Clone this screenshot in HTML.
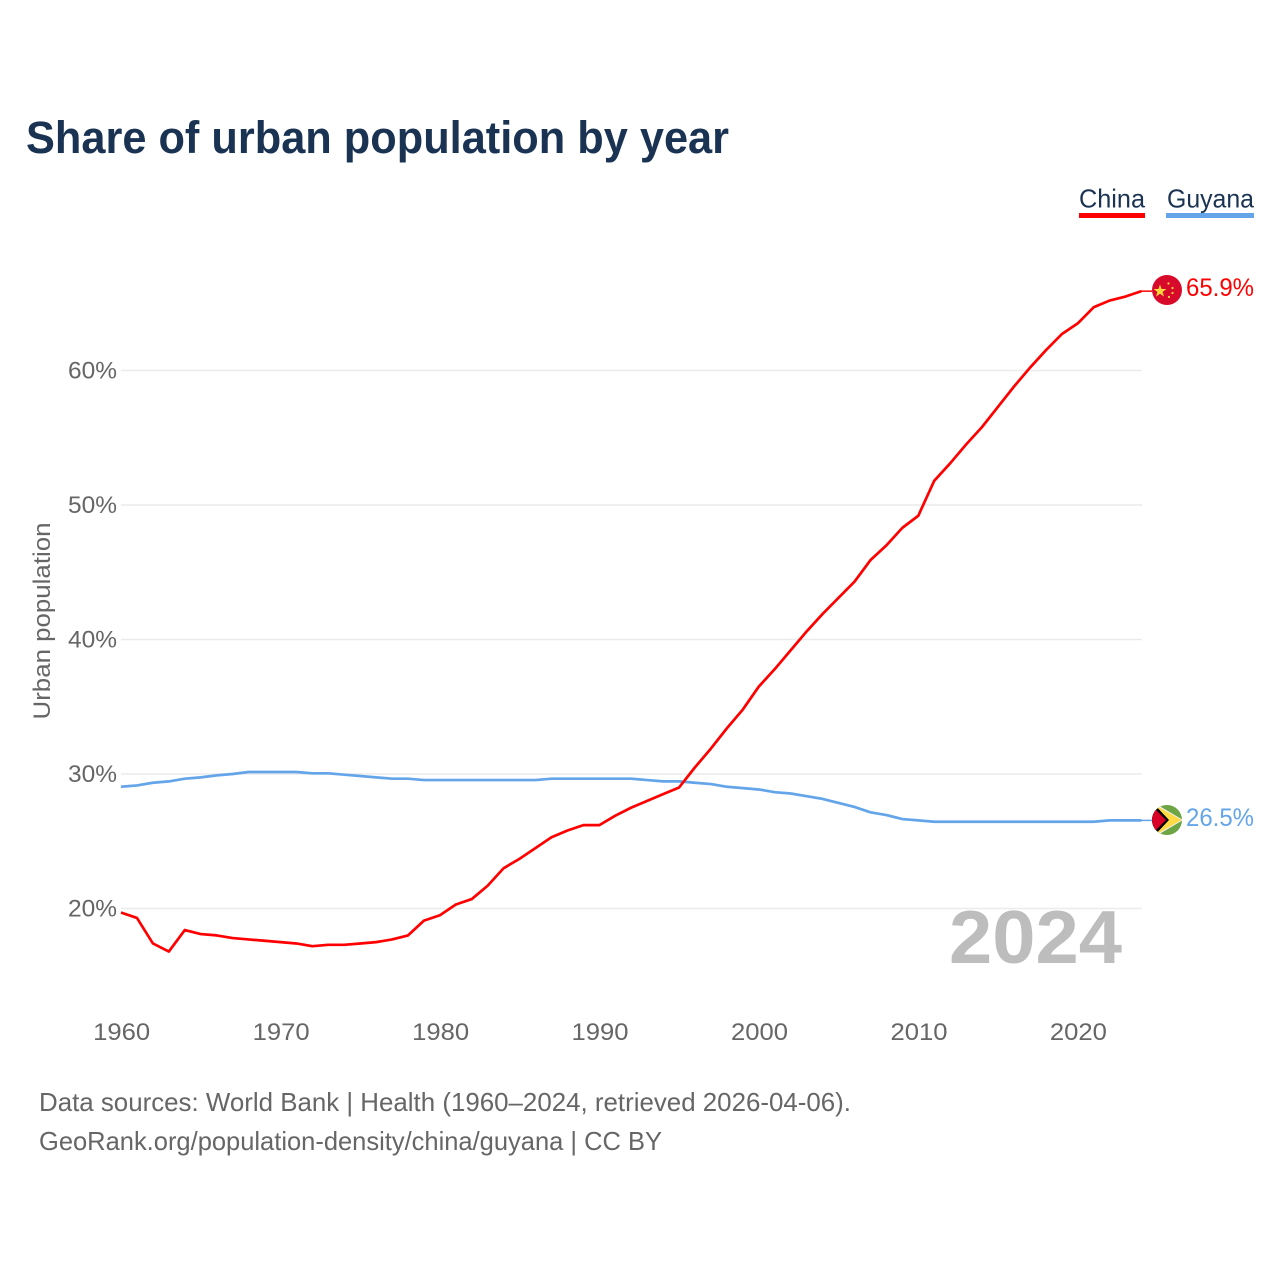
<!DOCTYPE html>
<html lang="en">
<head>
<meta charset="utf-8">
<title>Share of urban population by year</title>
<style>
html,body{margin:0;padding:0;background:#fff;width:1280px;height:1280px;overflow:hidden}
svg{display:block}
text{font-family:"Liberation Sans",sans-serif}
</style>
</head>
<body>
<svg id="chart" xmlns="http://www.w3.org/2000/svg" width="1280" height="1280" viewBox="0 0 1280 1280">
  <rect x="0" y="0" width="1280" height="1280" fill="#fff"/>
  <text x="26" y="153" font-size="45" font-weight="700" fill="#1a3353" textLength="703" lengthAdjust="spacingAndGlyphs">Share of urban population by year</text>

  <g>
    <text x="1079" y="207.5" font-size="26" fill="#1a3353" textLength="66" lengthAdjust="spacingAndGlyphs">China</text>
    <rect x="1079" y="213" width="66" height="5" fill="#ff0000"/>
  </g>
  <g>
    <text x="1167" y="207.5" font-size="26" fill="#1a3353" textLength="87" lengthAdjust="spacingAndGlyphs">Guyana</text>
    <rect x="1166" y="213" width="88" height="5" fill="#64a5ea"/>
  </g>

  <g id="grid"></g>
  <g id="yTicks"></g>
  <g id="xTicks"></g>
  <text transform="translate(50 621) rotate(-90)" text-anchor="middle" font-size="24.5" fill="#666" textLength="197" lengthAdjust="spacingAndGlyphs">Urban population</text>

  <text x="1122" y="963" text-anchor="end" font-size="75" font-weight="700" fill="#bdbdbd" textLength="173" lengthAdjust="spacingAndGlyphs">2024</text>

  <g id="series"></g>

  <defs>
    <clipPath id="china-clip"><circle cx="1167" cy="290" r="15"/></clipPath>
    <clipPath id="guyana-clip"><circle cx="1167" cy="820" r="15"/></clipPath>
  </defs>
  <g id="china-flag" clip-path="url(#china-clip)">
    <rect x="1152" y="275" width="30" height="30" fill="#d80a2b"/>
    <polygon points="1160,284.5 1161.6,289 1166.4,289 1162.6,291.9 1164,296.5 1160,293.7 1156,296.5 1157.4,291.9 1153.6,289 1158.4,289" fill="#ffd83d"/>
    <circle cx="1168.5" cy="283.5" r="1.1" fill="#ffd83d"/>
    <circle cx="1172.5" cy="288" r="1.1" fill="#ffd83d"/>
    <circle cx="1172.5" cy="293" r="1.1" fill="#ffd83d"/>
    <circle cx="1169" cy="297" r="1.1" fill="#ffd83d"/>
  </g>
  <g id="guyana-flag" clip-path="url(#guyana-clip)">
    <rect x="1152" y="805" width="30" height="30" fill="#6da544"/>
    <polygon points="1156,804 1183,820 1156,836" fill="#f0f0f0"/>
    <polygon points="1156,805.5 1181.5,820 1156,834.5" fill="#ffda44"/>
    <polygon points="1152,802 1169,820 1152,838" fill="#000"/>
    <polygon points="1150,804 1166,820 1150,836" fill="#d80027"/>
  </g>

  <text x="1186" y="296" font-size="25" fill="#ff0000" textLength="68" lengthAdjust="spacingAndGlyphs">65.9%</text>
  <text x="1186" y="826" font-size="25" fill="#64a5ea" textLength="68" lengthAdjust="spacingAndGlyphs">26.5%</text>

  <text x="39" y="1111" font-size="26" fill="#666" textLength="812" lengthAdjust="spacingAndGlyphs">Data sources: World Bank | Health (1960–2024, retrieved 2026-04-06).</text>
  <text x="39" y="1150" font-size="26" fill="#666" textLength="623" lengthAdjust="spacingAndGlyphs">GeoRank.org/population-density/china/guyana | CC BY</text>
</svg>
<script>
const startYear = 1960;
const chinaValues = [19.7,19.3,17.4,16.8,18.4,18.1,18.0,17.8,17.7,17.6,17.5,17.4,17.2,17.3,17.3,17.4,17.5,17.7,18.0,19.1,19.5,20.3,20.7,21.7,23.0,23.7,24.5,25.3,25.8,26.2,26.2,26.9,27.5,28.0,28.5,29.0,30.5,31.9,33.4,34.8,36.5,37.8,39.2,40.6,41.9,43.1,44.3,45.9,47.0,48.3,49.2,51.8,53.1,54.5,55.8,57.3,58.8,60.2,61.5,62.7,63.5,64.7,65.2,65.5,65.9];
const guyanaValues = [29.05,29.15,29.35,29.45,29.65,29.75,29.9,30.0,30.15,30.15,30.15,30.15,30.05,30.05,29.95,29.85,29.75,29.65,29.65,29.55,29.55,29.55,29.55,29.55,29.55,29.55,29.55,29.65,29.65,29.65,29.65,29.65,29.65,29.55,29.45,29.45,29.35,29.25,29.05,28.95,28.85,28.65,28.55,28.35,28.15,27.85,27.55,27.15,26.95,26.65,26.55,26.45,26.45,26.45,26.45,26.45,26.45,26.45,26.45,26.45,26.45,26.45,26.55,26.55,26.55];
const yTickValues = [20,30,40,50,60];
const yTickLabels = ["20%","30%","40%","50%","60%"];
const xTickValues = [1960,1970,1980,1990,2000,2010,2020];
const xTickLabels = ["1960","1970","1980","1990","2000","2010","2020"];

const SVG_NS = 'http://www.w3.org/2000/svg';
function xScale(year){ return 121 + (year - 1960) * (1020.5 / 64); }
function yScale(v){ return 908.5 - (v - 20) * 13.45; }
function make(tag, attrs, parent){
  const el = document.createElementNS(SVG_NS, tag);
  for (const k in attrs) el.setAttribute(k, attrs[k]);
  parent.appendChild(el);
  return el;
}
const grid = document.getElementById('grid');
const yTicks = document.getElementById('yTicks');
const xTicks = document.getElementById('xTicks');
const series = document.getElementById('series');

yTickValues.forEach(function(v, i){
  const line = make('line', {x1:121, x2:1142, y1:yScale(v), y2:yScale(v), stroke:'#ebebeb', 'stroke-width':1.5}, grid);
  
  
  const t = make('text', {x:117, y:yScale(v)+8, 'text-anchor':'end', 'font-size':24, fill:'#666', textLength:49, lengthAdjust:'spacingAndGlyphs'}, yTicks);
  t.textContent = yTickLabels[i];
  
  
});
xTickValues.forEach(function(v, i){
  const t = make('text', {x:xScale(v)+0.7, y:1040, 'text-anchor':'middle', 'font-size':24, fill:'#666', textLength:57, lengthAdjust:'spacingAndGlyphs'}, xTicks);
  t.textContent = xTickLabels[i];
  
  
});
function pathFor(values){
  return values.map(function(v, i){
    return (i ? 'L' : 'M') + xScale(startYear + i).toFixed(2) + ' ' + yScale(v).toFixed(2);
  }).join('');
}
function connector(values, color, name){
  const last = values[values.length - 1];
  const c = make('line', {x1:xScale(startYear + values.length - 1), x2:1152, y1:yScale(last), y2:yScale(last), stroke:color, 'stroke-width':1.5}, series);
  
  
}
const guyanaLine = make('path', {d:pathFor(guyanaValues), fill:'none', stroke:'#64a5ea', 'stroke-width':2.7, 'stroke-linejoin':'round'}, series);


const chinaLine = make('path', {d:pathFor(chinaValues), fill:'none', stroke:'#ff0000', 'stroke-width':2.7, 'stroke-linejoin':'round'}, series);


connector(guyanaValues, '#64a5ea', 'guyana-connector');
connector(chinaValues, '#ff0000', 'china-connector');
</script>
</body>
</html>
